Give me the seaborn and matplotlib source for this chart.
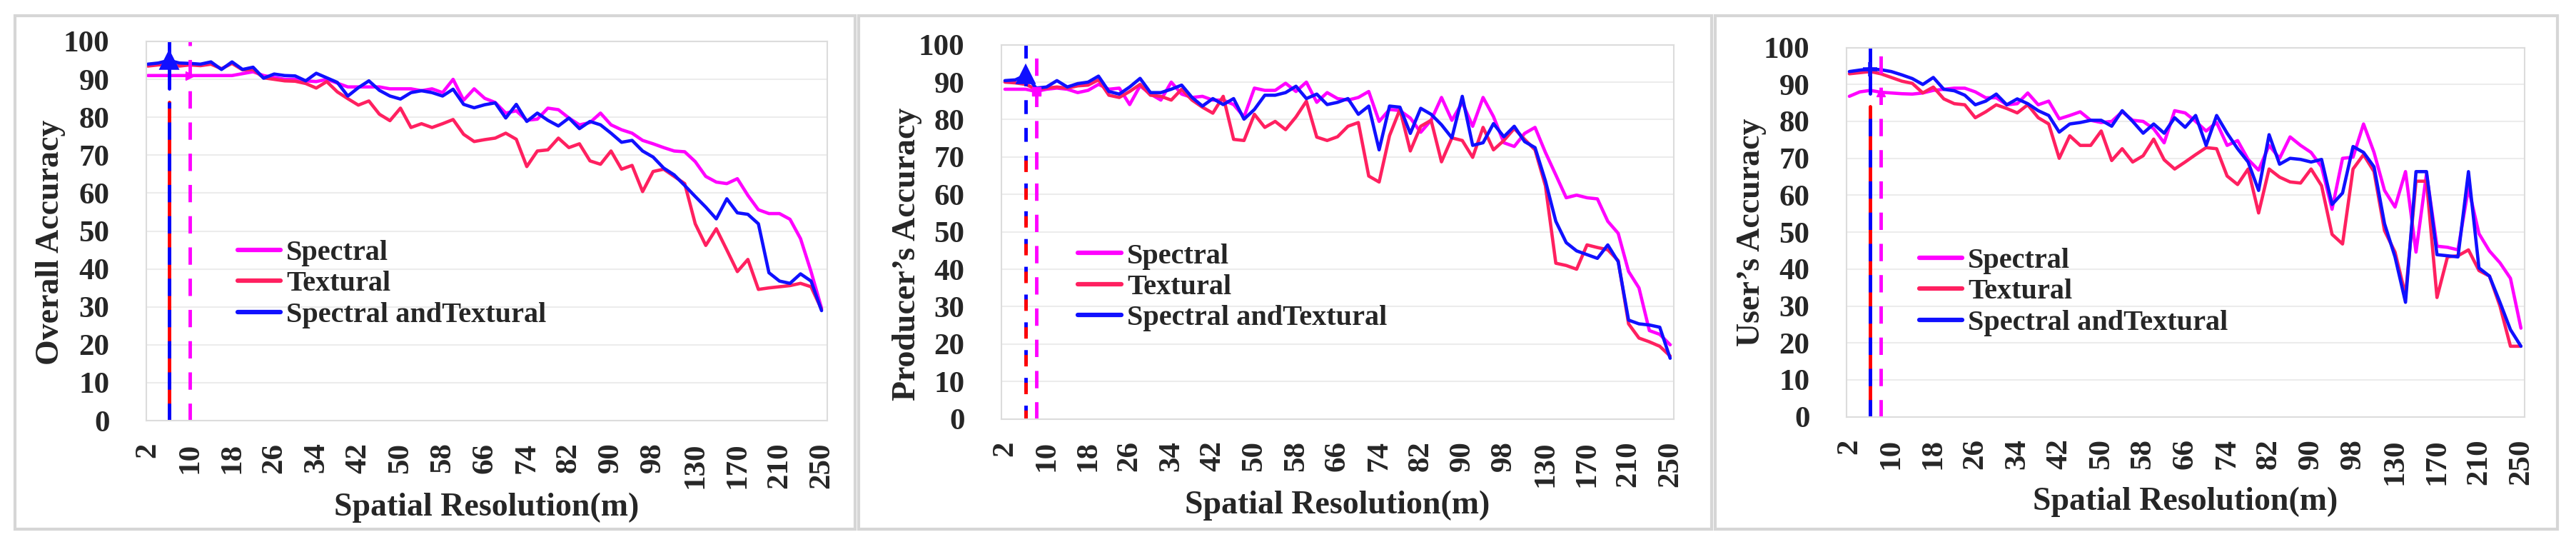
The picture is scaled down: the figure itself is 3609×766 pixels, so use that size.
import numpy as np
import matplotlib
matplotlib.use('Agg')
import matplotlib.pyplot as plt
import seaborn as sns
from matplotlib.patches import Rectangle

# spatial resolution categories (m)
resolution = [2, 4, 6, 8, 10, 12, 14, 16, 18, 20, 22, 24, 26, 28, 30, 32, 34, 36, 38, 40,
              42, 44, 46, 48, 50, 52, 54, 56, 58, 60, 62, 64, 66, 68, 70, 72, 74, 76, 78, 80,
              82, 84, 86, 88, 90, 92, 94, 96, 98, 100, 110, 120, 130, 140, 150, 160, 170, 180,
              190, 200, 210, 220, 230, 240, 250]

# Overall accuracy
oa_spectral = [91.0, 91.0, 91.0, 91.0, 91.0, 91.0, 91.0, 91.0, 91.0, 91.5, 92.0, 91.0, 90.5, 90.0, 90.0,
               89.6, 89.4, 90.0, 89.0, 88.0, 88.0, 88.0, 88.0, 87.5, 87.5, 87.5, 87.0, 87.5, 86.5, 90.0,
               84.5, 87.5, 85.0, 83.9, 81.1, 81.7, 79.2, 79.5, 82.4, 82.0, 79.8, 78.0, 78.6, 81.1, 78.0,
               76.7, 75.8, 73.9, 73.0, 72.0, 71.1, 70.9, 68.3, 64.4, 62.9, 62.5, 63.8, 59.4, 55.6, 54.6,
               54.6, 53.1, 48.0, 39.3, 29.6]
oa_textural = [93.5, 93.8, 94.0, 93.5, 93.8, 93.6, 94.0, 92.8, 94.2, 92.5, 92.6, 90.4, 90.0, 89.6, 89.5,
               88.9, 87.7, 89.4, 86.7, 84.9, 83.2, 84.3, 80.8, 79.1, 82.4, 77.3, 78.3, 77.3, 78.3, 79.4,
               75.5, 73.6, 74.1, 74.5, 75.8, 74.2, 67.0, 71.1, 71.4, 74.5, 72.0, 73.0, 68.5, 67.6, 71.1,
               66.3, 67.3, 60.4, 65.7, 66.3, 64.4, 62.5, 51.9, 46.2, 50.6, 45.0, 39.3, 42.5, 34.6, 35.0,
               35.3, 35.6, 36.2, 35.3, 29.3]
oa_combined = [94.0, 94.3, 95.0, 94.3, 94.2, 94.0, 94.6, 92.6, 94.6, 92.6, 93.2, 90.3, 91.4, 91.0, 90.9,
               89.6, 91.6, 90.4, 89.2, 85.6, 87.8, 89.6, 87.1, 85.6, 84.8, 86.5, 87.0, 86.5, 85.6, 87.4,
               83.4, 82.5, 83.3, 83.8, 79.8, 83.4, 78.9, 81.1, 79.2, 77.7, 79.8, 77.0, 78.9, 78.0, 75.8,
               73.4, 73.9, 71.1, 69.5, 66.6, 64.8, 62.0, 59.1, 56.3, 53.2, 58.5, 54.8, 54.4, 51.9, 39.0,
               36.8, 36.2, 38.7, 36.8, 29.0]

# Producer's accuracy
pa_spectral = [88.1, 88.1, 88.1, 87.5, 88.1, 88.4, 88.1, 87.2, 87.8, 89.4, 88.1, 88.4, 84.0, 89.0, 86.8,
               85.2, 90.0, 86.8, 85.9, 86.2, 85.2, 85.2, 84.0, 80.7, 88.4, 87.8, 87.8, 89.7, 87.5, 90.0,
               84.6, 87.2, 85.6, 85.2, 85.9, 87.5, 79.5, 82.7, 82.4, 80.4, 76.6, 79.8, 85.9, 79.8, 84.6,
               78.2, 85.9, 80.8, 73.8, 72.8, 76.3, 77.9, 71.2, 65.2, 59.1, 59.8, 59.1, 58.8, 52.8, 49.6,
               39.4, 35.0, 23.6, 22.6, 19.8]
pa_textural = [90.0, 89.8, 89.4, 88.1, 88.4, 88.7, 88.4, 89.0, 89.2, 90.6, 86.5, 85.9, 87.5, 89.4, 86.5,
               86.2, 85.2, 88.1, 85.2, 83.3, 81.7, 86.2, 74.7, 74.4, 81.4, 77.9, 79.5, 77.3, 80.7, 84.9,
               75.3, 74.4, 75.4, 78.2, 79.2, 64.9, 63.3, 75.7, 82.7, 71.6, 78.2, 79.8, 68.7, 75.1, 74.4,
               69.9, 77.9, 71.9, 74.4, 77.6, 74.7, 71.9, 62.3, 41.6, 41.0, 40.0, 46.5, 45.8, 45.2, 42.3,
               25.4, 21.6, 20.6, 19.4, 16.8]
pa_combined = [90.4, 90.6, 91.9, 88.4, 88.7, 90.4, 88.7, 89.6, 90.0, 91.6, 87.5, 86.8, 88.7, 91.0, 87.2,
               87.2, 88.1, 89.2, 85.9, 83.6, 85.6, 84.0, 85.6, 80.1, 82.7, 86.5, 86.5, 87.2, 88.9, 85.6,
               86.8, 84.0, 84.6, 85.6, 81.4, 83.6, 71.9, 83.6, 83.3, 76.3, 83.0, 81.4, 78.6, 75.1, 86.2,
               73.1, 73.8, 78.9, 75.4, 78.2, 74.1, 72.5, 63.6, 52.8, 47.1, 44.9, 43.9, 42.9, 46.5, 42.0,
               26.4, 25.4, 25.1, 24.5, 16.2]

# User's accuracy
ua_spectral = [86.8, 88.0, 88.4, 87.9, 87.7, 87.5, 87.4, 87.7, 88.4, 88.7, 89.0, 89.0, 88.0, 86.4, 86.4,
               84.5, 84.8, 87.7, 84.5, 85.5, 80.7, 81.6, 82.6, 80.3, 79.7, 80.0, 82.6, 80.3, 80.0, 78.0,
               74.2, 82.9, 82.3, 80.0, 77.4, 79.7, 73.5, 74.8, 69.7, 66.8, 73.5, 70.0, 75.8, 73.5, 71.6,
               67.7, 56.2, 70.0, 70.3, 79.3, 71.6, 61.3, 56.8, 66.4, 44.6, 65.8, 46.2, 45.9, 45.2, 62.0,
               49.6, 44.9, 41.7, 37.5, 24.0]
ua_textural = [92.9, 93.2, 93.5, 92.9, 91.9, 90.9, 90.3, 87.7, 89.3, 86.1, 84.8, 84.5, 81.0, 82.6, 84.5,
               83.5, 82.3, 84.5, 81.0, 79.3, 70.0, 76.1, 73.5, 73.5, 77.4, 69.4, 72.6, 69.0, 70.7, 75.2,
               69.6, 67.1, 69.0, 71.0, 72.9, 72.6, 65.2, 62.9, 67.1, 55.2, 67.1, 64.9, 63.6, 63.3, 67.1,
               62.6, 49.4, 46.8, 67.1, 71.0, 66.4, 50.4, 44.6, 32.9, 63.8, 63.8, 32.3, 43.3, 43.6, 45.2,
               39.6, 38.1, 30.0, 19.1, 19.1]
ua_combined = [93.5, 93.9, 94.2, 94.0, 93.5, 92.6, 91.6, 90.0, 91.9, 88.7, 88.3, 87.1, 84.5, 85.5, 87.4,
               84.5, 86.1, 84.8, 82.9, 81.6, 77.1, 79.3, 79.7, 80.3, 80.3, 78.7, 82.9, 80.0, 76.8, 79.3,
               76.8, 81.0, 78.4, 81.6, 73.5, 81.6, 76.8, 72.6, 69.0, 61.3, 76.4, 68.4, 70.0, 69.7, 69.0,
               69.7, 57.5, 60.6, 73.2, 71.6, 67.7, 52.3, 43.3, 31.0, 66.4, 66.4, 43.9, 43.6, 43.3, 66.4,
               40.3, 38.1, 31.0, 23.6, 19.1]

# optimal resolutions marked by vertical lines: (combined/textural, spectral)
oa_best = (6, 10)
pa_best = (6, 8)
ua_best = (6, 8)

SPEC_C = '#FF00FF'
TEXT_C = '#FF2060'
COMB_C = '#1010FF'

sns.set_theme(style='white')
plt.rcParams['font.family'] = ['Liberation Serif', 'DejaVu Serif']
plt.rcParams['font.weight'] = 'bold'
plt.rcParams['axes.labelweight'] = 'bold'

W, H = 3609, 766
fig = plt.figure(figsize=(W / 100, H / 100), dpi=100)
fig.patch.set_facecolor('white')

# outer chart frames
for x0, x1 in [(21, 1198), (1203, 2398), (2403, 3583)]:
    fig.add_artist(Rectangle((x0 / W, 1 - 741 / H), (x1 - x0) / W, (741 - 22) / H,
                             transform=fig.transFigure, fill=False, ec='#d6d6d6', lw=3))


def draw_panel(rect, xlim, ylabel, ylab_y, spectral, textural, combined, best, dashed, markers, leg_xy):
    ax = fig.add_axes(rect)
    pos = np.arange(len(resolution))
    for name, vals, color in [('Spectral', spectral, SPEC_C),
                              ('Textural', textural, TEXT_C),
                              ('Spectral andTextural', combined, COMB_C)]:
        sns.lineplot(x=pos, y=vals, color=color, lw=3.3, label=name, ax=ax)

    ic = resolution.index(best[0])
    isp = resolution.index(best[1])
    if dashed:
        ax.axvline(ic, 0, 1, color='blue', lw=3.5, ls=(0, (4, 4)))
        ax.axvline(ic, 0, 0.73, color='red', lw=3.5, ls=(0.7, (3.3, 4.7)))
    else:
        ax.axvline(ic, 0, 0.84, color='red', lw=3.5)
        ax.axvline(ic, 0, 0.84, color='blue', lw=3.5, ls=(0, (5, 4)))
        ax.axvline(ic, 0.875, 1, color='blue', lw=3.5)
    ax.axvline(isp, 0, 1, color=SPEC_C, lw=3.5, ls=(0, (5, 4)))
    ax.plot(ic, combined[ic], marker=markers[0], color=COMB_C, ms=14, mew=4)
    ax.plot(isp, spectral[isp], marker=markers[1], color=SPEC_C, ms=9)

    ax.set_xlim(*xlim)
    ax.set_ylim(0, 100)
    ax.set_yticks(range(0, 101, 10))
    ax.set_xticks(pos[::4])
    ax.set_xticklabels(resolution[::4], rotation=90)
    ax.tick_params(axis='y', length=0, pad=37, labelsize=31)
    ax.tick_params(axis='x', length=0, pad=22, labelsize=31)
    ax.yaxis.grid(True, color='#ececec', lw=1.5)
    ax.set_axisbelow(True)
    for s in ax.spines.values():
        s.set_color('#dcdcdc')
        s.set_linewidth(1.5)

    ax.set_ylabel(ylabel, fontsize=33)
    ax.set_xlabel('Spatial Resolution(m)', fontsize=33)
    ax.yaxis.set_label_coords(-0.118, ylab_y)
    ax.xaxis.set_label_coords(0.5, -0.19)

    leg = ax.legend(loc='center left', bbox_to_anchor=leg_xy, frameon=False, fontsize=29,
                    handlelength=1.5, handletextpad=0.2, labelspacing=0.15,
                    borderpad=0, borderaxespad=0)
    for h in leg.get_lines():
        h.set_linewidth(4.5)
    return ax


draw_panel([205 / W, 1 - 589 / H, 954 / W, 531 / H], (-0.14, 64.54), 'Overall Accuracy', 0.47,
           oa_spectral, oa_textural, oa_combined, oa_best, False, ('^', '>'), (0.134, 0.36))
draw_panel([1403 / W, 1 - 586.6 / H, 942 / W, 524 / H], (-0.34, 64.35), 'Producer\u2019s Accuracy', 0.44,
           pa_spectral, pa_textural, pa_combined, pa_best, True, ('^', 's'), (0.114, 0.352))
draw_panel([2587 / W, 1 - 583.6 / H, 950 / W, 517 / H], (-0.27, 64.35), 'User\u2019s Accuracy', 0.5,
           ua_spectral, ua_textural, ua_combined, ua_best, False, ('+', '^'), (0.107, 0.338))

fig.savefig('out.png', dpi=100, facecolor='white')
